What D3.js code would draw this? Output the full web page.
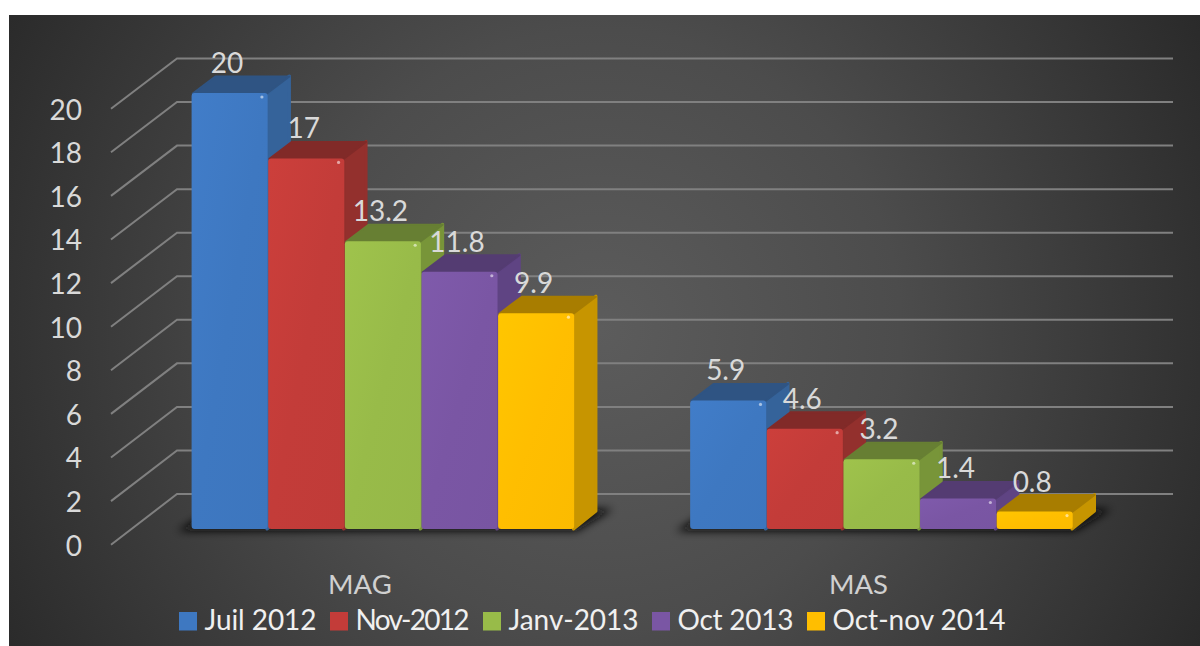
<!DOCTYPE html>
<html>
<head>
<meta charset="utf-8">
<script src="https://cdn.jsdelivr.net/npm/d3@7"></script>
<style>
    html, body { margin: 0; padding: 0; background: #fff; }
    svg { display: block; font-family: Lato, "Open Sans", sans-serif; }
</style>
</head>
<body>
<div id="chart_container"></div>
<script>
const categories = ["MAG", "MAS"];
const series_names = ["Juil 2012", "Nov-2012", "Janv-2013", "Oct 2013", "Oct-nov 2014"];
const mag_values = [20, 17, 13.2, 11.8, 9.9];
const mas_values = [5.9, 4.6, 3.2, 1.4, 0.8];
const y_ticks = [0, 2, 4, 6, 8, 10, 12, 14, 16, 18, 20];
const front_colors = ["#3e78c1", "#c33c39", "#98bb49", "#7a56a4", "#ffbe00"];
const top_colors = ["#2f5483", "#812a28", "#677f33", "#543c72", "#a87d00"];
const side_colors = ["#35639a", "#93302d", "#789539", "#5f4483", "#c79500"];

const chart_width = 1200, chart_height = 646;

const svg = d3.select("#chart_container")
    .append("svg")
    .attr("width", chart_width)
    .attr("height", chart_height);

const defs = svg.append("defs");

const bg_gradient = defs.append("radialGradient")
    .attr("id", "bg_gradient")
    .attr("gradientUnits", "userSpaceOnUse")
    .attr("cx", 600).attr("cy", 330).attr("r", 700);
bg_gradient.append("stop").attr("offset", "0%").attr("stop-color", "#5c5c5c");
bg_gradient.append("stop").attr("offset", "43%").attr("stop-color", "#4c4c4c");
bg_gradient.append("stop").attr("offset", "81%").attr("stop-color", "#343434");
bg_gradient.append("stop").attr("offset", "100%").attr("stop-color", "#282828");

defs.append("filter")
    .attr("id", "shadow_blur")
    .attr("x", "-10%").attr("y", "-50%").attr("width", "120%").attr("height", "200%")
    .append("feGaussianBlur")
    .attr("stdDeviation", 4);

svg.append("rect")
    .attr("x", 9)
    .attr("y", 15)
    .attr("width", chart_width - 9)
    .attr("height", chart_height - 15)
    .attr("fill", "url(#bg_gradient)");

// wall gridlines: front edge scale for the tick labels, back edge scale for the wall
const y_front = d3.scaleLinear().domain([0, 20]).range([544.7, 108.7]);
const y_back = d3.scaleLinear().domain([0, 20]).range([494, 58.5]);
const y_bar = d3.scaleLinear().domain([0, 20]).range([529, 93]);

const wall_front_x = 111, wall_back_x = 177, wall_right_x = 1173;

svg.append("g")
    .selectAll("path")
    .data(y_ticks)
    .enter()
    .append("path")
    .attr("d", d => `M${wall_front_x},${y_front(d)}L${wall_back_x},${y_back(d)}L${wall_right_x},${y_back(d)}`)
    .attr("fill", "none")
    .attr("stroke", "#808080")
    .attr("stroke-width", 2);

const y_axis = svg.append("g")
    .attr("transform", "translate(82, 0)")
    .call(d3.axisLeft(y_front).tickValues(y_ticks).tickSize(0).tickPadding(0).tickFormat(d3.format("d")));
y_axis.select(".domain").remove();
y_axis.selectAll("text")
    .attr("dy", "0.37em")
    .style("font-size", "28px")
    .style("font-family", "Lato, 'Open Sans', sans-serif")
    .attr("fill", "#d9d9d9");

// bars
const x_group = d3.scaleBand()
    .domain(categories)
    .range([191.3, 1073])
    .paddingInner(0.2315);

const x_bar = d3.scaleBand()
    .domain(series_names)
    .range([0, x_group.bandwidth()]);

const depth_x = 22.5, depth_y = 18;

const groups = [mag_values, mas_values];

// soft shadow on the floor, behind each group of bars
svg.append("g")
    .selectAll("path")
    .data(categories)
    .enter()
    .append("path")
    .attr("d", d => {
        const x0 = x_group(d), x1 = x0 + x_group.bandwidth();
        const y0 = y_bar(0);
        return `M${x0 - 14},${y0 + 2}L${x1 + 2},${y0 + 2}L${x1 + depth_x + 16},${y0 - depth_y - 2}L${x0 + depth_x},${y0 - depth_y - 2}Z`;
    })
    .attr("fill", "#0d0d0d")
    .attr("filter", "url(#shadow_blur)");

front_colors.forEach(function (c, i) {
    const g = defs.append("linearGradient")
        .attr("id", "front_gradient_" + i)
        .attr("x1", "0%").attr("y1", "0%").attr("x2", "100%").attr("y2", "100%");
    g.append("stop").attr("offset", "0%").attr("stop-color", d3.color(c).brighter(0.12));
    g.append("stop").attr("offset", "50%").attr("stop-color", c);
    g.append("stop").attr("offset", "100%").attr("stop-color", d3.color(c).darker(0.04));
});

categories.forEach(function (cat, c) {
    const bars = svg.append("g")
        .selectAll("g")
        .data(groups[c])
        .enter()
        .append("g");

    const left = (d, i) => x_group(cat) + x_bar(series_names[i]);
    const right = (d, i) => left(d, i) + x_bar.bandwidth();

    bars.append("path")
        .attr("d", (d, i) => {
            const r = right(d, i) - 1, t = y_bar(d) + 1, b = y_bar(0);
            return `M${r},${t}L${r + depth_x},${t - depth_y}L${r + depth_x},${b - depth_y}L${r},${b}Z`;
        })
        .attr("fill", (d, i) => side_colors[i])
        .attr("stroke", (d, i) => side_colors[i])
        .attr("stroke-width", 3)
        .attr("stroke-linejoin", "round");

    bars.append("path")
        .attr("d", (d, i) => {
            const l = left(d, i) + 1.5, r = right(d, i) - 1, t = y_bar(d) + 0.5;
            return `M${l},${t}L${l + depth_x},${t - depth_y + 1}L${r + depth_x},${t - depth_y + 1}L${r},${t}Z`;
        })
        .attr("fill", (d, i) => top_colors[i])
        .attr("stroke", (d, i) => top_colors[i])
        .attr("stroke-width", 2)
        .attr("stroke-linejoin", "round");

    bars.append("rect")
        .attr("x", (d, i) => left(d, i) + 0.3)
        .attr("y", d => y_bar(d))
        .attr("width", x_bar.bandwidth() - 0.6)
        .attr("height", d => y_bar(0) - y_bar(d))
        .attr("rx", 3)
        .attr("fill", (d, i) => `url(#front_gradient_${i})`);

    // small glint at the corner of the bevel
    bars.append("circle")
        .attr("cx", (d, i) => right(d, i) - 6)
        .attr("cy", d => y_bar(d) + 4)
        .attr("r", 1.6)
        .attr("fill", "#fff")
        .attr("fill-opacity", 0.55);
});

// value labels
categories.forEach(function (cat, c) {
    svg.append("g")
        .selectAll("text")
        .data(groups[c])
        .enter()
        .append("text")
        .attr("x", (d, i) => x_group(cat) + x_bar(series_names[i]) + x_bar.bandwidth() / 2 - 2.5)
        .attr("y", d => y_bar(d) - 20)
        .attr("text-anchor", "middle")
        .attr("fill", "#d9d9d9")
        .style("font-size", "28px")
        .text(d => d);
});

// category labels
svg.append("g")
    .selectAll("text")
    .data(categories)
    .enter()
    .append("text")
    .attr("x", d => x_group(d) + x_group.bandwidth() / 2 - 23)
    .attr("y", 594)
    .attr("text-anchor", "middle")
    .attr("fill", "#d0d0d0")
    .style("font-size", "27.5px")
    .text(d => d);

// legend, each entry squeezed to end just before the next swatch
const legend_swatch_x = [179, 330, 483, 652, 807];
const legend = svg.append("g");
series_names.forEach(function (name, i) {
    legend.append("rect")
        .attr("x", legend_swatch_x[i])
        .attr("y", 612)
        .attr("width", 18)
        .attr("height", 18.5)
        .attr("fill", front_colors[i]);

    const label = legend.append("text")
        .attr("x", legend_swatch_x[i] + 25.5)
        .attr("y", 629.5)
        .attr("fill", "#f0f0f0")
        .style("font-size", "28px")
        .text(name);

    if (i < series_names.length - 1) {
        label.attr("textLength", legend_swatch_x[i + 1] - legend_swatch_x[i] - 39)
            .attr("lengthAdjust", "spacing");
    }
});
</script>
</body>
</html>
